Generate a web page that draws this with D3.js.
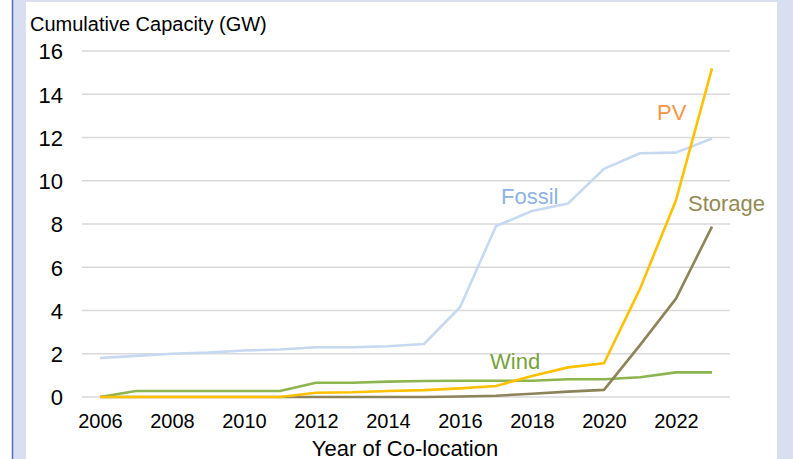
<!DOCTYPE html>
<html><head><meta charset="utf-8">
<script src="https://cdn.jsdelivr.net/npm/d3@7"></script>
<style>body{margin:0;background:#fff;}svg{display:block;font-family:"Liberation Sans",Arial,sans-serif;}</style>
</head><body><svg id="c" width="793" height="459"></svg>
<script>
const years = [2006,2007,2008,2009,2010,2011,2012,2013,2014,2015,2016,2017,2018,2019,2020,2021,2022,2023];
const fossil = [1.8,1.9,2.0,2.05,2.15,2.2,2.3,2.3,2.35,2.45,4.15,7.9,8.6,8.95,10.55,11.27,11.3,11.95];
const pv = [0,0,0,0,0,0,0.2,0.22,0.28,0.32,0.4,0.51,0.97,1.37,1.56,5.0,9.1,15.2];
const storage = [0,0,0,0,0,0,0,0,0,0,0.02,0.06,0.15,0.25,0.33,2.4,4.55,7.88];
const wind = [0,0.28,0.28,0.28,0.28,0.28,0.66,0.66,0.71,0.74,0.75,0.75,0.75,0.82,0.82,0.91,1.14,1.14];
const yTicks = [0,2,4,6,8,10,12,14,16];
const xTickLabels = [2006,2008,2010,2012,2014,2016,2018,2020,2022];

const svg = d3.select("#c");
// frame
svg.append("rect").attr("x",12).attr("y",0).attr("width",781).attr("height",459).attr("fill","#d9dff0");
svg.append("rect").attr("x",26).attr("y",2).attr("width",751).attr("height",457).attr("fill","#fff");
svg.append("line").attr("x1",12.5).attr("x2",12.5).attr("y1",0).attr("y2",459).attr("stroke","#4a6fbf").attr("stroke-width",1.5);

const x = d3.scalePoint().domain(years).range([100,712]);
const y = d3.scaleLinear().domain([0,16]).range([397,51]);

// gridlines
svg.append("g").selectAll("line").data(yTicks).join("line")
  .attr("x1",82).attr("x2",730).attr("y1",d=>y(d)).attr("y2",d=>y(d))
  .attr("stroke","#d9d9d9").attr("stroke-width",1.3);

const yAxis = svg.append("g").attr("transform","translate(63,0)")
  .call(d3.axisLeft(y).tickValues(yTicks).tickSize(0).tickPadding(0));
yAxis.select(".domain").remove();
yAxis.selectAll("text").attr("font-size",22).attr("fill","#000").attr("dy","0.36em").attr("font-family","Liberation Sans, Arial, sans-serif");

const xAxis = svg.append("g").attr("transform","translate(0,414)")
  .call(d3.axisBottom(x).tickValues(xTickLabels).tickSize(0).tickPadding(0).tickFormat(d3.format("d")));
xAxis.select(".domain").remove();
xAxis.selectAll("text").attr("font-size",20).attr("fill","#000").attr("dy","0.72em").attr("font-family","Liberation Sans, Arial, sans-serif");

const line = d3.line().x((d,i)=>x(years[i])).y(d=>y(d));
const series = [
  {v:fossil, c:"#c6d9f0"},
  {v:wind, c:"#8db54f"},
  {v:storage, c:"#8c8358"},
  {v:pv, c:"#ffc000"}
];
series.forEach(s=>{
  svg.append("path").datum(s.v).attr("d",line).attr("fill","none")
    .attr("stroke",s.c).attr("stroke-width",2.6).attr("stroke-linejoin","round");
});

// labels
const lab = [
  {t:"Fossil", x:501, y:203.5, c:"#8db3e2"},
  {t:"PV", x:657, y:120, c:"#f79646"},
  {t:"Storage", x:688, y:210.5, c:"#948a54"},
  {t:"Wind", x:490, y:369, c:"#77a33a"}
];
svg.append("g").selectAll("text").data(lab).join("text")
  .attr("x",d=>d.x).attr("y",d=>d.y).attr("fill",d=>d.c).attr("font-size",22).text(d=>d.t);

svg.append("text").attr("x",30).attr("y",31).attr("font-size",20).attr("fill","#000").text("Cumulative Capacity (GW)");
svg.append("text").attr("x",405).attr("y",456).attr("text-anchor","middle").attr("font-size",22).attr("fill","#000").text("Year of Co-location");
</script></body></html>
